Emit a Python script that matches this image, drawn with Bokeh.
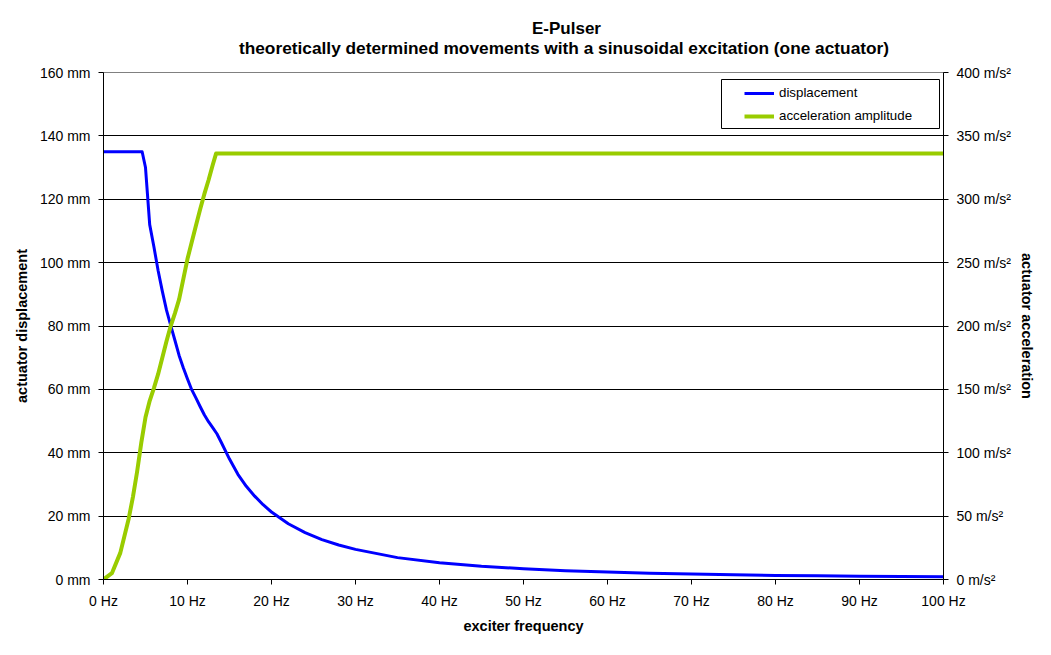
from bokeh.plotting import figure
from bokeh.models import Range1d, LinearAxis, FixedTicker, Legend, LegendItem, Label, BoxAnnotation
from bokeh.embed import file_html
from bokeh.resources import INLINE

# ---- data ----
freq_disp = [0, 1, 2, 3, 4, 4.6, 5, 5.5, 6, 6.5, 7, 7.5, 8, 8.5, 9, 9.5, 10, 10.5,
             11, 11.5, 12, 12.5, 13, 13.5, 14, 15, 16, 17, 18, 19, 20, 22, 24, 26,
             28, 30, 35, 40, 45, 50, 55, 60, 65, 70, 75, 80, 85, 90, 95, 100]
disp_mm = [135, 135, 135, 135, 135, 135, 130, 112, 105, 97.5, 91, 85, 80.2, 75.5, 70.7, 66.8, 63.3, 59.9,
           57.3, 54.6, 52, 49.8, 47.9, 46, 43.4, 38, 33.2, 29.4, 26.3, 23.6, 21.3, 17.6, 14.8, 12.6,
           10.9, 9.5, 6.9, 5.3, 4.2, 3.4, 2.8, 2.4, 2.0, 1.7, 1.5, 1.3, 1.2, 1.05, 0.95, 0.85]

freq_acc = [0, 1, 2, 3, 3.5, 4, 4.5, 5, 5.5, 6, 6.5, 7, 7.5, 8, 8.5, 9, 9.5, 10,
            10.5, 11, 11.5, 12, 12.5, 13, 13.4, 20, 40, 60, 80, 100]
acc_ms2 = [0, 5, 21, 48, 65, 85, 108, 128, 141, 151, 162, 175, 188, 200, 210, 221, 237, 253,
           266, 279, 292, 304, 315, 327, 336, 336, 336, 336, 336, 336]

x_ticks = [0, 10, 20, 30, 40, 50, 60, 70, 80, 90, 100]
y_ticks_mm = [0, 20, 40, 60, 80, 100, 120, 140, 160]
y_ticks_acc = [0, 50, 100, 150, 200, 250, 300, 350, 400]

title_line1 = "E-Pulser"
title_line2 = "theoretically determined movements with a sinusoidal excitation (one actuator)"
series_names = ["displacement", "acceleration amplitude"]

FONT = "Liberation Sans"

p = figure(frame_width=840, frame_height=507,
           min_border_left=103, min_border_right=108, min_border_top=72, min_border_bottom=76,
           x_range=Range1d(0, 100), y_range=Range1d(0, 160),
           output_backend="svg", toolbar_location=None, title=None)
p.extra_y_ranges = {"acc": Range1d(0, 400)}

p.background_fill_color = "white"
p.border_fill_color = "white"
p.outline_line_color = "#808080"
p.outline_line_width = 1

# grids
p.xgrid.visible = False
p.ygrid.ticker = FixedTicker(ticks=y_ticks_mm)
p.ygrid.grid_line_color = "black"
p.ygrid.grid_line_width = 1

def style_axis(ax):
    ax.axis_line_color = "black"
    ax.axis_line_width = 1
    ax.major_tick_line_color = "black"
    ax.major_tick_out = 5
    ax.major_tick_in = 0
    ax.minor_tick_line_color = None
    ax.major_label_text_font = FONT
    ax.major_label_text_font_size = "14px"
    ax.major_label_text_color = "black"
    ax.major_label_standoff = 8
    ax.axis_label_text_font = FONT
    ax.axis_label_text_font_size = "14.5px"
    ax.axis_label_text_font_style = "bold"
    ax.axis_label_text_color = "black"

# x axis
xa = p.xaxis[0]
xa.ticker = FixedTicker(ticks=x_ticks)
xa.major_label_overrides = {t: f"{t} Hz" for t in x_ticks}
xa.axis_label = "exciter frequency"
style_axis(xa)
xa.axis_label_standoff = 6

# left axis
ya = p.yaxis[0]
ya.ticker = FixedTicker(ticks=y_ticks_mm)
ya.major_label_overrides = {t: f"{t} mm" for t in y_ticks_mm}
ya.axis_label = "actuator displacement"
style_axis(ya)
ya.axis_label_standoff = 7

# right axis
ra = LinearAxis(y_range_name="acc", ticker=FixedTicker(ticks=y_ticks_acc))
ra.major_label_overrides = {t: f"{t} m/s\u00b2" for t in y_ticks_acc}
ra.axis_label = "actuator acceleration"
style_axis(ra)
ra.axis_label_standoff = 5
p.add_layout(ra, "right")

# series
r_disp = p.line(freq_disp, disp_mm, line_color="#0000FF", line_width=3, line_join="round")
r_acc = p.line(freq_acc, acc_ms2, line_color="#99CC00", line_width=4, line_join="round",
               y_range_name="acc")

# legend frame (screen units, relative to the plot frame)
box = BoxAnnotation(left=618, right=836, bottom=451, top=500,
                    left_units="screen", right_units="screen",
                    bottom_units="screen", top_units="screen",
                    fill_color="white", fill_alpha=1, line_color="black", line_width=1,
                    line_alpha=1)
p.add_layout(box)

legend = Legend(items=[LegendItem(label=series_names[0], renderers=[r_disp]),
                       LegendItem(label=series_names[1], renderers=[r_acc])],
                location=(641, 456))
legend.border_line_color = None
legend.background_fill_alpha = 0
legend.label_text_font = FONT
legend.label_text_font_size = "13.3px"
legend.label_text_color = "black"
legend.glyph_width = 30
legend.glyph_height = 12
legend.label_height = 12
legend.label_width = 150
legend.label_standoff = 5
legend.spacing = 8
legend.padding = 5
legend.margin = 0
p.add_layout(legend, "center")

# two-line title as labels in the area above the frame
lab2 = Label(x=460.5, y=25, x_units="screen", y_units="screen", text=title_line2,
             text_align="center", text_baseline="alphabetic", text_font=FONT,
             text_font_size="17.3px", text_font_style="bold", text_color="black")
lab1 = Label(x=463, y=24, x_units="screen", y_units="screen", text=title_line1,
             text_align="center", text_baseline="alphabetic", text_font=FONT,
             text_font_size="17px", text_font_style="bold", text_color="black")
p.add_layout(lab2, "above")
p.add_layout(lab1, "above")

open("out.html", "w").write(file_html(p, INLINE))
